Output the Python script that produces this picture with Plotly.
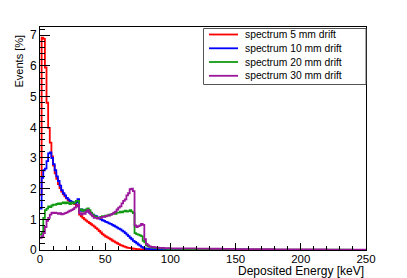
import numpy as np
import plotly.graph_objects as go

# ---------------- data ----------------
series_names = ["spectrum 5 mm drift", "spectrum 10 mm drift",
                "spectrum 20 mm drift", "spectrum 30 mm drift"]
series_colors = ["#ff0000", "#0000ff", "#139a13", "#9b169b"]

# bin edges (keV): 1.25 keV bins up to 100 keV, 10 keV bins in the flat tail
fine_edges = np.arange(0, 100.001, 1.25)
tail_edges = np.arange(110, 250.001, 10)
bin_edges = np.concatenate([fine_edges, tail_edges])

red_fine = [1.8, 6.92, 6.88, 5.95, 4.8, 3.98, 3.5, 3.05, 2.75, 2.5,
            2.32, 2.15, 2.02, 1.9, 1.82, 1.75, 1.68, 1.62, 1.58, 1.55,
            1.52, 1.5, 1.46, 1.42, 1.15, 1.1, 1.05, 1.0, 0.96, 0.92,
            0.88, 0.84, 0.8, 0.76, 0.71, 0.67, 0.62, 0.57, 0.52, 0.48,
            0.44, 0.41, 0.38, 0.35, 0.31, 0.28, 0.25, 0.22, 0.19, 0.16,
            0.14, 0.12, 0.1, 0.08, 0.07, 0.06, 0.05, 0.04, 0.035, 0.03,
            0.025, 0.02, 0.02, 0.018, 0.015, 0.015, 0.012, 0.012, 0.01, 0.01,
            0.01, 0.01, 0.008, 0.008, 0.008, 0.007, 0.007, 0.006, 0.006, 0.005]
blue_fine = [1.35, 2.35, 2.6, 2.65, 2.9, 3.15, 3.18, 3.0, 2.8, 2.6,
             2.4, 2.25, 2.1, 1.95, 1.85, 1.78, 1.7, 1.65, 1.6, 1.58,
             1.55, 1.52, 1.55, 1.66, 1.28, 1.32, 1.28, 1.3, 1.25, 1.28,
             1.22, 1.18, 1.15, 1.12, 1.1, 1.06, 1.03, 1.0, 0.97, 0.95,
             0.92, 0.9, 0.87, 0.85, 0.82, 0.79, 0.76, 0.73, 0.7, 0.67,
             0.63, 0.6, 0.55, 0.5, 0.45, 0.4, 0.35, 0.3, 0.26, 0.22,
             0.18, 0.14, 0.1, 0.07, 0.05, 0.04, 0.035, 0.03, 0.03, 0.028,
             0.025, 0.025, 0.022, 0.022, 0.02, 0.02, 0.02, 0.018, 0.018, 0.017]
green_fine = [0.5, 0.55, 1.05, 1.3, 1.35, 1.42, 1.4, 1.45, 1.48, 1.47,
              1.5, 1.52, 1.5, 1.53, 1.55, 1.52, 1.55, 1.53, 1.5, 1.55,
              1.52, 1.55, 1.6, 1.6, 1.3, 1.32, 1.28, 1.3, 1.32, 1.36,
              1.3, 1.22, 1.15, 1.1, 1.08, 1.05, 1.05, 1.08, 1.1, 1.1,
              1.12, 1.12, 1.15, 1.15, 1.18, 1.2, 1.18, 1.22, 1.22, 1.25,
              1.23, 1.26, 1.28, 1.25, 1.27, 1.3, 1.25, 1.2, 0.55, 0.52,
              0.5, 0.48, 0.45, 0.3, 0.25, 0.15, 0.12, 0.1, 0.09, 0.08,
              0.07, 0.06, 0.06, 0.055, 0.05, 0.05, 0.045, 0.045, 0.04, 0.04]
purple_fine = [0.4, 0.45, 0.55, 0.75, 0.95, 1.05, 1.15, 1.22, 1.2, 1.22,
               1.2, 1.18, 1.2, 1.16, 1.18, 1.2, 1.22, 1.25, 1.28, 1.3,
               1.33, 1.38, 1.42, 1.48, 1.2, 1.15, 1.2, 1.18, 1.25, 1.3,
               1.22, 1.15, 1.1, 1.05, 1.05, 1.02, 1.05, 1.05, 1.08, 1.08,
               1.1, 1.12, 1.12, 1.15, 1.18, 1.22, 1.25, 1.32, 1.38, 1.42,
               1.52, 1.6, 1.65, 1.78, 1.85, 1.98, 2.0, 1.92, 0.8, 0.75,
               0.78, 0.8, 0.85, 0.82, 0.35, 0.2, 0.15, 0.12, 0.1, 0.1,
               0.09, 0.08, 0.08, 0.07, 0.07, 0.07, 0.06, 0.06, 0.06, 0.06]

red_tail = [0.005, 0.004, 0.004, 0.003, 0.003, 0.002, 0.002, 0.002,
            0.002, 0.001, 0.001, 0.001, 0.001, 0.001, 0.001]
blue_tail = [0.015, 0.013, 0.012, 0.01, 0.009, 0.008, 0.007, 0.006,
             0.005, 0.005, 0.004, 0.004, 0.003, 0.003, 0.003]
green_tail = [0.035, 0.03, 0.028, 0.025, 0.022, 0.02, 0.018, 0.016,
              0.014, 0.012, 0.01, 0.01, 0.008, 0.008, 0.007]
purple_tail = [0.055, 0.05, 0.045, 0.04, 0.035, 0.03, 0.028, 0.025,
               0.022, 0.02, 0.018, 0.016, 0.014, 0.012, 0.01]

series_values = [red_fine + red_tail, blue_fine + blue_tail,
                 green_fine + green_tail, purple_fine + purple_tail]

x_tick_vals = [0, 50, 100, 150, 200, 250]
y_tick_vals = [0, 1, 2, 3, 4, 5, 6, 7]

# ---------------- figure ----------------
W, H = 407, 278          # window size
OFF = 8                  # page body margin offset of the figure
L, R, T, B = 40, 366, 27, 250  # plot area in absolute window pixels
FONT = "Liberation Sans, Arial, Helvetica, sans-serif"


def px_x(p):
    return (p - L) / (R - L)


def px_y(p):
    return (B - p) / (B - T)


fig = go.Figure()
for name, col, vals in zip(series_names, series_colors, series_values):
    fig.add_trace(go.Scatter(
        x=bin_edges, y=list(vals) + [vals[-1]],
        mode="lines", line=dict(color=col, width=1.8, shape="hv"),
        name=name, showlegend=False, hoverinfo="skip"))

axis_common = dict(showline=True, linecolor="black", linewidth=1, mirror=True,
                   showgrid=False, zeroline=False, ticks="inside",
                   tickcolor="black", tickwidth=1)

fig.update_xaxes(range=[0, 250], tickvals=x_tick_vals, ticklen=7,
                 minor=dict(dtick=10, ticks="inside", ticklen=4,
                            tickcolor="black", tickwidth=1),
                 ticklabelstandoff=-2,
                 tickfont=dict(family=FONT, size=11.5, color="black"),
                 **axis_common)
fig.update_yaxes(range=[0, 7.27], tickvals=y_tick_vals, ticklen=10,
                 minor=dict(dtick=0.2, ticks="inside", ticklen=5,
                            tickcolor="black", tickwidth=1),
                 tickfont=dict(family=FONT, size=12, color="black"),
                 **axis_common)

annotations = [
    dict(text="Deposited Energy [keV]", xref="paper", yref="paper",
         x=1.0, y=px_y(270.5), xanchor="right", yanchor="middle",
         showarrow=False, font=dict(family=FONT, size=12, color="black")),
    dict(text="Events [%]", xref="paper", yref="paper",
         x=px_x(19), y=px_y(33), xanchor="center", yanchor="top",
         textangle=-90, showarrow=False,
         font=dict(family=FONT, size=11, color="black")),
]

shapes = [dict(type="rect", xref="paper", yref="paper",
               x0=px_x(203.5), x1=1.0, y0=px_y(84.5), y1=px_y(28.5),
               line=dict(color="#555555", width=1), fillcolor="white",
               layer="above")]

row_y = [34.5, 48.3, 62.0, 75.8]
for name, col, ry in zip(series_names, series_colors, row_y):
    shapes.append(dict(type="line", xref="paper", yref="paper",
                       x0=px_x(209), x1=px_x(238), y0=px_y(ry), y1=px_y(ry),
                       line=dict(color=col, width=1.8), layer="above"))
    annotations.append(dict(text=name, xref="paper", yref="paper",
                            x=px_x(243), y=px_y(ry), xanchor="left",
                            yanchor="middle", showarrow=False,
                            font=dict(family=FONT, size=10.3, color="black")))

fig.update_layout(width=W - OFF, height=H - OFF,
                  margin=dict(l=L - OFF, r=W - R, t=T - OFF, b=H - B,
                              pad=0, autoexpand=False),
                  paper_bgcolor="white", plot_bgcolor="white",
                  showlegend=False, shapes=shapes, annotations=annotations)

fig.write_html("out.html")
